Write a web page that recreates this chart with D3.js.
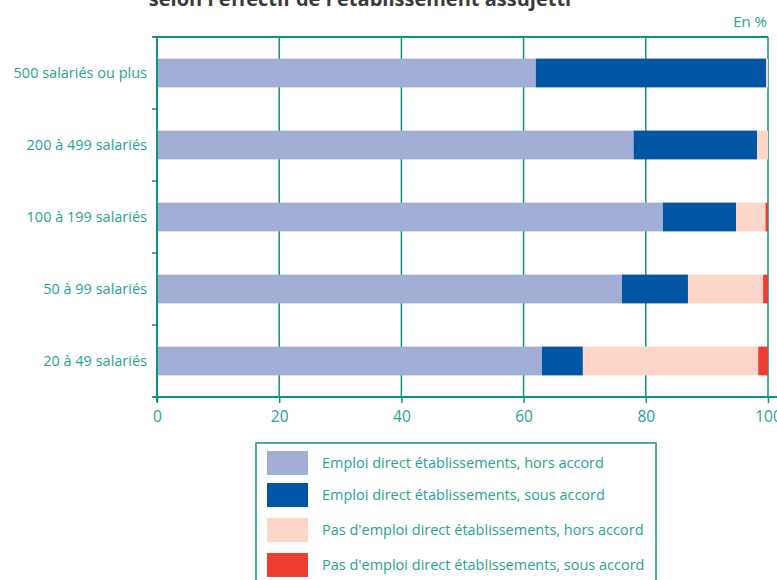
<!DOCTYPE html>
<html>
<head>
<meta charset="utf-8">
<title>Établissements assujettis selon l'effectif</title>
<script src="https://cdn.jsdelivr.net/npm/d3@7"></script>
<style>
  body { margin: 0; background: #fff; }
  svg { display: block; font-family: "Open Sans", sans-serif; }
</style>
</head>
<body>
<div id="chart"></div>
<script>
  // categories, top to bottom
  var categories = ['500 salariés ou plus', '200 à 499 salariés', '100 à 199 salariés', '50 à 99 salariés', '20 à 49 salariés'];

  // series values (en %)
  var emploiHors = [62, 78, 82.8, 76.1, 63];
  var emploiSous = [37.7, 20.2, 12, 10.8, 6.7];
  var pasEmploiHors = [0.3, 1.8, 4.8, 12.3, 28.7];
  var pasEmploiSous = [0, 0, 0.4, 0.8, 1.6];

  var seriesNames = [
    'Emploi direct établissements, hors accord',
    'Emploi direct établissements, sous accord',
    "Pas d'emploi direct établissements, hors accord",
    "Pas d'emploi direct établissements, sous accord"
  ];
  var colors = ['#a3aed6', '#0055a4', '#fcd6c9', '#ee3e33'];
  var xTicks = [0, 20, 40, 60, 80, 100];

  var teal = '#29a292';
  var lineTeal = '#13907e';

  var rows = categories.map(function(c, i) {
    return { cat: c, s0: emploiHors[i], s1: emploiSous[i], s2: pasEmploiHors[i], s3: pasEmploiSous[i] };
  });
  var stack = d3.stack().keys(['s0', 's1', 's2', 's3'])(rows);

  var svg = d3.select('#chart')
    .append('svg')
    .attr('width', 777)
    .attr('height', 580);

  var x = d3.scaleLinear().domain([0, 100]).range([157, 768]);
  var y = d3.scaleBand().domain(categories).range([37, 397])
    .paddingInner(0.6).paddingOuter(0.3);

  // title, cut by the top edge
  svg.append('text')
    .attr('x', 360).attr('y', 6)
    .attr('text-anchor', 'middle')
    .attr('font-size', 20).attr('font-weight', 'bold')
    .attr('fill', '#3a3a3a')
    .text("selon l'effectif de l'établissement assujetti");

  svg.append('text')
    .attr('x', 767).attr('y', 27)
    .attr('text-anchor', 'end')
    .attr('font-size', 15)
    .attr('fill', teal)
    .text('En %');

  // vertical grid + frame
  svg.append('g').selectAll('line')
    .data(xTicks.slice(1))
    .enter().append('line')
    .attr('x1', function(d) { return x(d); })
    .attr('x2', function(d) { return x(d); })
    .attr('y1', 37).attr('y2', 397)
    .attr('stroke', lineTeal).attr('stroke-width', 1.5);

  svg.append('line')
    .attr('x1', 153).attr('x2', 768)
    .attr('y1', 37).attr('y2', 37)
    .attr('stroke', lineTeal).attr('stroke-width', 2);

  // bars
  svg.append('g').selectAll('g')
    .data(stack)
    .enter().append('g')
    .attr('fill', function(d, i) { return colors[i]; })
    .selectAll('rect')
    .data(function(d) { return d; })
    .enter().append('rect')
    .attr('x', function(d) { return x(d[0]); })
    .attr('width', function(d) { return x(d[1]) - x(d[0]); })
    .attr('y', function(d) { return y(d.data.cat); })
    .attr('height', y.bandwidth());

  // x axis
  var xAxis = svg.append('g')
    .attr('transform', 'translate(0,397)')
    .call(d3.axisBottom(x).tickValues(xTicks).tickSize(6).tickPadding(8));
  xAxis.select('.domain').attr('stroke', lineTeal).attr('stroke-width', 2)
    .attr('d', 'M153,0H777');
  xAxis.selectAll('.tick line').attr('stroke', lineTeal).attr('stroke-width', 1.5);
  xAxis.selectAll('text').attr('fill', teal).attr('font-size', 15.5)
    .attr('font-family', '"Open Sans", sans-serif');

  // y axis: line, boundary ticks, labels
  svg.append('line')
    .attr('x1', 157).attr('x2', 157)
    .attr('y1', 37).attr('y2', 402)
    .attr('stroke', lineTeal).attr('stroke-width', 2);

  svg.append('g').selectAll('line')
    .data(d3.range(categories.length + 1))
    .enter().append('line')
    .attr('x1', 152).attr('x2', 157)
    .attr('y1', function(i) { return 37 + i * y.step(); })
    .attr('y2', function(i) { return 37 + i * y.step(); })
    .attr('stroke', lineTeal).attr('stroke-width', 1.5);

  svg.append('g').selectAll('text')
    .data(categories)
    .enter().append('text')
    .attr('x', 147)
    .attr('y', function(d) { return y(d) + y.bandwidth() / 2; })
    .attr('dy', '0.35em')
    .attr('text-anchor', 'end')
    .attr('font-size', 14.5)
    .attr('fill', teal)
    .text(function(d) { return d; });

  // legend
  var legend = svg.append('g');
  legend.append('rect')
    .attr('x', 256).attr('y', 443)
    .attr('width', 400).attr('height', 150)
    .attr('fill', 'none')
    .attr('stroke', lineTeal).attr('stroke-width', 1.5);

  var legendY = [451, 483, 518, 553];
  var items = legend.selectAll('g.item')
    .data(seriesNames)
    .enter().append('g')
    .attr('class', 'item')
    .attr('transform', function(d, i) { return 'translate(267,' + legendY[i] + ')'; });
  items.append('rect')
    .attr('width', 41).attr('height', 24)
    .attr('fill', function(d, i) { return colors[i]; });
  items.append('text')
    .attr('x', 55).attr('y', 12)
    .attr('dy', '0.35em')
    .attr('font-size', 14.5)
    .attr('fill', teal)
    .text(function(d) { return d; });
</script>
</body>
</html>
